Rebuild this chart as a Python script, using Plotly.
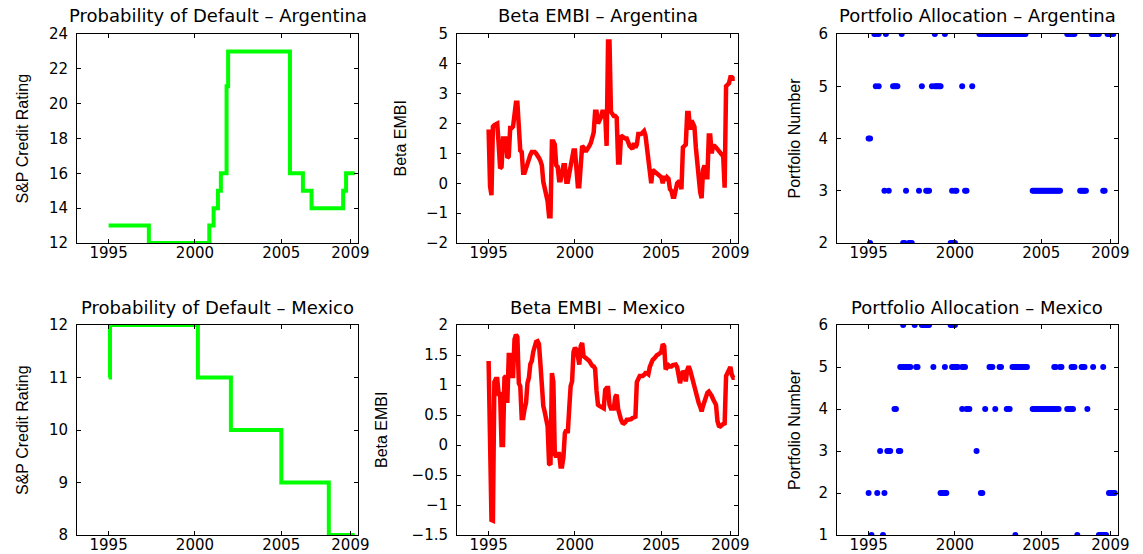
import numpy as np
import plotly.graph_objects as go

# ---------------------------------------------------------------------------
# Data
# ---------------------------------------------------------------------------
# monthly observations, Jan 1995 .. Apr 2009
N_MONTHS = 172
months = 1995 + np.arange(N_MONTHS) / 12

# S&P credit rating: change dates (decimal year) and the rating from that date on
arg_rating_dates = [1995.0, 1997.33, 2000.83, 2001.08, 2001.33, 2001.5, 2001.83,
                    2001.92, 2005.5, 2006.25, 2006.75, 2008.58, 2008.75, 2009.25]
arg_rating_vals = [13, 12, 13, 14, 15, 16, 21, 23, 16, 15, 14, 15, 16, 16]

mex_rating_dates = [1995.0, 1995.08, 2000.17, 2002.08, 2005.0, 2007.75, 2009.25]
mex_rating_vals = [11, 12, 11, 10, 9, 8, 8]

# beta of country returns on the EMBI, monthly
arg_beta = [
    1.8, -0.1, -0.4, 1.9, 1.95, 2.0, 2.0, 1.3, 0.5, 0.55,
    1.5, 1.5, 1.5, 0.85, 0.9, 1.85, 1.85, 1.9, 2.5, 2.7,
    2.7, 1.8, 1.1, 1.05, 0.35, 0.35, 0.55, 0.65, 0.8, 0.95,
    1.05, 1.05, 1.05, 1.0, 0.95, 0.85, 0.75, 0.6, 0.05, -0.15,
    -0.35, -0.6, -1.1, -1.1, 1.4, 1.4, 1.3, 0.6, 0.55, 0.1,
    0.1, 0.35, 0.6, 0.6, 0.05, 0.05, 0.35, 0.6, 1.0, 1.1,
    1.1, 0.2, -0.1, -0.1, 1.0, 1.25, 1.2, 1.1, 1.1, 1.15,
    1.25, 1.35, 1.5, 1.7, 2.4, 2.4, 2.0, 2.1, 2.2, 2.4,
    2.4, 2.3, 1.25, 4.75, 4.75, 2.4, 2.3, 2.25, 2.25, 2.2,
    0.7, 0.7, 1.6, 1.55, 1.55, 1.5, 1.5, 1.3, 1.25, 1.2,
    1.15, 1.35, 1.2, 1.3, 1.65, 1.65, 1.65, 1.7, 1.75, 1.6,
    1.2, 0.5, 0.1, 0.0, 0.45, 0.4, 0.35, 0.3, 0.25, 0.25,
    0.2, 0.0, 0.25, 0.1, 0.2, 0.15, -0.2, -0.25, -0.45, -0.45,
    -0.15, 0.0, 0.05, 0.05, -0.2, 1.2, 1.25, 1.3, 2.35, 2.35,
    1.8, 2.1, 2.0, 1.9, 1.2, 0.6, 0.1, -0.3, -0.5, 0.45,
    0.6, 0.2, 0.2, 1.6, 1.6, 1.0, 1.25, 1.25, 1.2, 1.15,
    1.1, 1.05, 1.0, 0.9, -0.15, 3.25, 3.3, 3.35, 3.55, 3.55,
    3.5, 3.5,
]

mex_beta = [
    1.4, 0.05, -1.25, -1.26, 1.05, 1.1, 1.1, 0.85, 0.85, 0.0,
    0.0, 1.12, 1.15, 0.7, 1.5, 1.5, 1.15, 1.15, 1.76, 1.84,
    1.8, 1.03, 0.98, 0.45, 0.45, 0.6, 0.7, 1.03, 1.12, 1.35,
    1.4, 1.55, 1.65, 1.72, 1.73, 1.68, 1.35, 0.85, 0.65, 0.55,
    0.45, 0.31, -0.31, -0.33, 1.2, 1.05, -0.15, -0.2, -0.15, -0.15,
    -0.36, -0.36, -0.2, 0.2, 0.25, 0.2, 0.6, 0.98, 1.06, 1.55,
    1.62, 1.59, 1.48, 1.34, 1.65, 1.7, 1.48, 1.45, 1.42, 1.42,
    1.4, 1.35, 1.32, 1.31, 1.27, 0.9, 0.67, 0.65, 0.64, 0.61,
    0.61, 0.92, 0.95, 0.95, 0.67, 0.61, 0.62, 0.61, 0.8, 0.84,
    0.6, 0.48, 0.42, 0.37, 0.36, 0.38, 0.42, 0.42, 0.42, 0.43,
    0.45, 0.46, 0.47, 1.05, 1.12, 1.15, 1.15, 1.15, 1.17, 1.2,
    1.2, 1.18, 1.3, 1.38, 1.42, 1.44, 1.48, 1.5, 1.51, 1.52,
    1.55, 1.68, 1.65, 1.26, 1.31, 1.33, 1.31, 1.31, 1.33, 1.34,
    1.34, 1.3, 1.1, 1.03, 1.15, 1.23, 1.2, 1.06, 1.25, 1.31,
    1.25, 1.15, 1.12, 1.03, 0.88, 0.78, 0.7, 0.64, 0.56, 0.65,
    0.75, 0.83, 0.87, 0.89, 0.86, 0.82, 0.76, 0.72, 0.67, 0.4,
    0.32, 0.31, 0.34, 0.35, 0.36, 1.15, 1.2, 1.28, 1.3, 1.17,
    1.12, 1.12,
]

# portfolio allocation: (first year, first month, number of months, portfolio)
arg_portfolio_runs = [
    (1995, 5, 2, 6), (1995, 8, 1, 6), (1996, 1, 1, 6), (1996, 12, 1, 6),
    (1998, 11, 1, 6), (1999, 6, 1, 6), (2001, 6, 33, 6), (2006, 7, 6, 6),
    (2007, 12, 6, 6), (2008, 11, 5, 6),
    (1995, 6, 1, 5), (1995, 8, 1, 5), (1996, 6, 4, 5), (1998, 2, 1, 5),
    (1998, 9, 1, 5), (1998, 11, 5, 5), (2000, 6, 1, 5), (2001, 1, 1, 5),
    (1995, 1, 2, 4),
    (1995, 12, 1, 3), (1996, 3, 1, 3), (1997, 3, 1, 3), (1997, 12, 1, 3),
    (1998, 5, 3, 3), (1999, 11, 1, 3), (2000, 1, 2, 3), (2000, 8, 2, 3),
    (2004, 7, 20, 3), (2007, 4, 5, 3), (2008, 8, 2, 3),
    (1995, 2, 1, 2), (1997, 1, 2, 2), (1997, 5, 3, 2), (1999, 10, 4, 2),
]

mex_portfolio_runs = [
    (1997, 1, 1, 6), (1997, 9, 1, 6), (1998, 2, 6, 6), (1999, 10, 4, 6),
    (1996, 11, 8, 5), (1997, 10, 2, 5), (1998, 10, 1, 5), (1999, 6, 1, 5),
    (1999, 11, 5, 5), (2000, 6, 3, 5), (2002, 1, 3, 5), (2002, 8, 2, 5),
    (2003, 5, 11, 5), (2005, 10, 2, 5), (2006, 2, 2, 5), (2006, 10, 3, 5),
    (2007, 5, 3, 5), (2008, 1, 1, 5), (2008, 8, 1, 5),
    (1996, 7, 2, 4), (2000, 6, 1, 4), (2000, 9, 3, 4), (2001, 10, 1, 4),
    (2002, 5, 1, 4), (2003, 1, 3, 4), (2004, 7, 19, 4), (2006, 7, 5, 4),
    (2007, 9, 1, 4),
    (1995, 9, 1, 3), (1996, 2, 3, 3), (1996, 10, 2, 3), (2001, 4, 1, 3),
    (1995, 1, 1, 2), (1995, 7, 1, 2), (1995, 12, 1, 2), (1999, 3, 5, 2),
    (2001, 7, 2, 2), (2008, 12, 5, 2),
    (1995, 3, 1, 1), (1995, 11, 1, 1), (2003, 7, 1, 1), (2007, 2, 1, 1),
    (2008, 5, 6, 1),
]

year_ticks = [1995, 2000, 2005, 2009]

panel_titles = [
    "Probability of Default \u2013 Argentina", "Beta EMBI \u2013 Argentina",
    "Portfolio Allocation \u2013 Argentina",
    "Probability of Default \u2013 Mexico", "Beta EMBI \u2013 Mexico",
    "Portfolio Allocation \u2013 Mexico",
]
y_titles = ["S&P Credit Rating", "Beta EMBI", "Portfolio Number"] * 2

y_ranges = [(12, 24), (-2, 5), (2, 6), (8, 12), (-1.5, 2), (1, 6)]
y_ticks = [
    [12, 14, 16, 18, 20, 22, 24],
    [-2, -1, 0, 1, 2, 3, 4, 5],
    [2, 3, 4, 5, 6],
    [8, 9, 10, 11, 12],
    [-1.5, -1, -0.5, 0, 0.5, 1, 1.5, 2],
    [1, 2, 3, 4, 5, 6],
]


def expand_runs(runs):
    xs, ys = [], []
    for year, month, count, value in runs:
        for j in range(count):
            xs.append(year + (month - 1 + j) / 12)
            ys.append(value)
    return xs, ys


def tick_text(v):
    s = f"{v:g}"
    return s.replace("-", "\u2212")


# ---------------------------------------------------------------------------
# Figure
# ---------------------------------------------------------------------------
W, H = 1143, 554
col_px = [(77, 358), (457, 738), (837, 1118)]
row_px = [(34, 243), (325, 535)]

GREEN, RED, BLUE = "#00ff00", "#ff0000", "#0000ff"
TICK_FONT = dict(family="DejaVu Sans, Liberation Sans, sans-serif", size=15, color="black")
TITLE_FONT = dict(family="DejaVu Sans, Liberation Sans, sans-serif", size=18, color="black")
YTITLE_FONT = dict(family="Liberation Sans Narrow, Liberation Sans, sans-serif",
                   size=16, color="black")

fig = go.Figure()

arg_pf_x, arg_pf_y = expand_runs(arg_portfolio_runs)
mex_pf_x, mex_pf_y = expand_runs(mex_portfolio_runs)

series = [
    dict(x=arg_rating_dates, y=arg_rating_vals, kind="step"),
    dict(x=months, y=arg_beta, kind="line"),
    dict(x=arg_pf_x, y=arg_pf_y, kind="dots"),
    dict(x=mex_rating_dates, y=mex_rating_vals, kind="step"),
    dict(x=months, y=mex_beta, kind="line"),
    dict(x=mex_pf_x, y=mex_pf_y, kind="dots"),
]

annotations = []
for i, s in enumerate(series):
    r, c = divmod(i, 3)
    n = i + 1
    xa, ya = ("x", "y") if n == 1 else (f"x{n}", f"y{n}")
    if s["kind"] == "step":
        tr = go.Scatter(x=s["x"], y=s["y"], mode="lines",
                        line=dict(color=GREEN, width=4, shape="hv"))
    elif s["kind"] == "line":
        tr = go.Scatter(x=s["x"], y=s["y"], mode="lines",
                        line=dict(color=RED, width=4.5))
    else:
        tr = go.Scatter(x=s["x"], y=s["y"], mode="markers",
                        marker=dict(color=BLUE, size=6, line=dict(width=0)))
    tr.update(xaxis=xa, yaxis=ya, showlegend=False, hoverinfo="skip")
    fig.add_trace(tr)

    x0, x1 = col_px[c]
    y0, y1 = row_px[r]
    axis_common = dict(
        showline=True, mirror="ticks", linecolor="black", linewidth=1,
        ticks="inside", ticklen=4, tickwidth=1, tickcolor="black",
        showgrid=False, zeroline=False, tickfont=TICK_FONT, fixedrange=True,
        automargin=False,
    )
    fig.layout[f"xaxis{'' if n == 1 else n}"] = dict(
        axis_common, domain=[x0 / W, x1 / W], anchor=ya,
        range=[1993.17, 2009.44], tickmode="array",
        tickvals=year_ticks, ticktext=[str(t) for t in year_ticks],
        ticklabelstandoff=-4,
    )
    fig.layout[f"yaxis{'' if n == 1 else n}"] = dict(
        axis_common, domain=[1 - y1 / H, 1 - y0 / H], anchor=xa,
        range=list(y_ranges[i]), tickmode="array",
        tickvals=y_ticks[i], ticktext=[tick_text(v) for v in y_ticks[i]],
        ticklabelstandoff=5,
    )

    # panel title
    title_y = [16, 307][r]
    annotations.append(dict(
        text=panel_titles[i], xref="paper", yref="paper",
        x=(x0 + x1) / 2 / W, y=1 - title_y / H, xanchor="center", yanchor="middle",
        showarrow=False, font=TITLE_FONT,
    ))

y_title_x = [22, 400, 794, 22, 381, 794]
for i, t in enumerate(y_titles):
    r, c = divmod(i, 3)
    y0, y1 = row_px[r]
    annotations.append(dict(
        text=t, xref="paper", yref="paper", textangle=-90,
        x=y_title_x[i] / W, y=1 - (y0 + y1) / 2 / H,
        xanchor="center", yanchor="middle", showarrow=False, font=YTITLE_FONT,
    ))

fig.update_layout(
    width=W, height=H, margin=dict(l=0, r=0, t=0, b=0),
    paper_bgcolor="white", plot_bgcolor="white",
    annotations=annotations,
)

fig.write_html("out.html", include_plotlyjs=True, config={"displayModeBar": False})
